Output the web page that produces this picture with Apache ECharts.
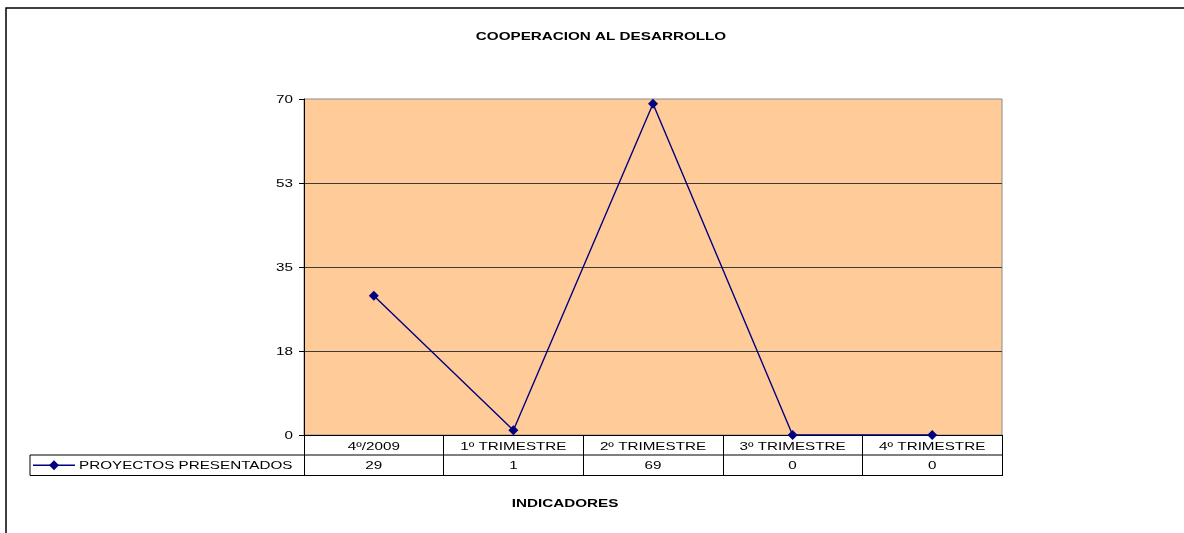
<!DOCTYPE html>
<html>
<head>
<meta charset="utf-8">
<script src="https://cdn.jsdelivr.net/npm/echarts@6/dist/echarts.min.js"></script>
<style>
  html, body { margin: 0; padding: 0; background: #fff; }
  #chart { width: 1184px; height: 533px; }
</style>
</head>
<body>
<div id="chart"></div>
<script>
const categories = ['4º/2009', '1º TRIMESTRE', '2º TRIMESTRE', '3º TRIMESTRE', '4º TRIMESTRE'];
const seriesName = 'PROYECTOS PRESENTADOS';
const values = [29, 1, 69, 0, 0];
const yMin = 0, yMax = 70, yInterval = 17.5;
const titleText = 'COOPERACION AL DESARROLLO';
const xAxisTitle = 'INDICADORES';

const FONT = '"Liberation Sans", Arial, sans-serif';
const FS = 10.5;
const SX = 1.45;            // the reference's text is drawn horizontally stretched
const NAVY = '#000080';
const W = 1184, H = 533;
const G = { left: 304, right: 182, top: 99, bottom: 98 };
const ROW = 20.5;

const chart = echarts.init(document.getElementById('chart'), null, { renderer: 'canvas' });

chart.setOption({
  backgroundColor: '#fff',
  animation: false,
  textStyle: { fontFamily: FONT },
  grid: {
    left: G.left, right: G.right, top: G.top, bottom: G.bottom,
    show: true, backgroundColor: '#FFCC99', borderColor: '#8a8a8a', borderWidth: 1
  },
  xAxis: {
    type: 'category', data: categories, boundaryGap: true,
    axisLine: { show: true, lineStyle: { color: '#000', width: 1 } },
    axisTick: { show: true, interval: 0, length: 2 * ROW, lineStyle: { color: '#000', width: 1 } },
    axisLabel: { show: false },
    splitLine: { show: false }
  },
  yAxis: {
    type: 'value', min: yMin, max: yMax, interval: yInterval,
    axisLine: { show: true, lineStyle: { color: '#000', width: 1 } },
    axisTick: { show: true, length: 5, lineStyle: { color: '#000' } },
    axisLabel: { show: false },
    splitLine: { show: true, showMaxLine: false, showMinLine: false, lineStyle: { color: '#3a3a3a', width: 1 } }
  },
  series: [{
    name: seriesName, type: 'line', data: values,
    symbol: 'diamond', symbolSize: 10,
    itemStyle: { color: NAVY },
    lineStyle: { color: NAVY, width: 1.4 }
  }]
});

function txt(x, y, text, align, bold) {
  return { type: 'text', x: x, y: y, scaleX: SX, silent: true,
    style: { text: text, font: (bold ? 'bold ' : '') + FS + 'px ' + FONT, fill: '#000',
             textAlign: align, textVerticalAlign: 'middle' } };
}

// Data table, labels and frame drawn relative to the grid and axes
const x1 = W - G.right, yAxisBottom = H - G.bottom;
const r1 = yAxisBottom + ROW - 0.5, r2 = yAxisBottom + 2 * ROW - 0.5;
const legendLeft = 30;
const mid = (r1 + r2) / 2;
const graphics = [
  { type: 'rect', shape: { x: 6, y: 8, width: 1400, height: 800 }, style: { fill: 'none', stroke: '#000', lineWidth: 1.5 }, silent: true },
  { type: 'line', shape: { x1: legendLeft, y1: r1, x2: x1, y2: r1 }, style: { stroke: '#000', lineWidth: 1 } },
  { type: 'line', shape: { x1: legendLeft, y1: r2, x2: x1, y2: r2 }, style: { stroke: '#000', lineWidth: 1 } },
  { type: 'line', shape: { x1: legendLeft, y1: r1, x2: legendLeft, y2: r2 }, style: { stroke: '#000', lineWidth: 1 } },
  { type: 'line', shape: { x1: legendLeft + 3, y1: mid, x2: legendLeft + 45, y2: mid }, style: { stroke: NAVY, lineWidth: 1.4 } },
  { type: 'polygon', shape: { points: [[legendLeft + 24, mid - 5], [legendLeft + 29, mid], [legendLeft + 24, mid + 5], [legendLeft + 19, mid]] }, style: { fill: NAVY } },
  txt(legendLeft + 49, mid + 0.5, seriesName, 'left', false),
  txt(601, 37.5, titleText, 'center', true),
  txt(565, 504, xAxisTitle, 'center', true)
];
categories.forEach((c, i) => {
  const px = chart.convertToPixel({ xAxisIndex: 0 }, i);
  graphics.push(txt(px, (yAxisBottom + r1) / 2 + 2, c, 'center', false));
});
values.forEach((v, i) => {
  const px = chart.convertToPixel({ xAxisIndex: 0 }, i);
  graphics.push(txt(px, mid + 0.5, String(v), 'center', false));
});
for (let v = yMin; v <= yMax + 1e-9; v += yInterval) {
  const py = chart.convertToPixel({ yAxisIndex: 0 }, v);
  graphics.push(txt(G.left - 11, py + 1, String(Math.round(v)), 'right', false));
}
chart.setOption({ graphic: graphics });
</script>
</body>
</html>
